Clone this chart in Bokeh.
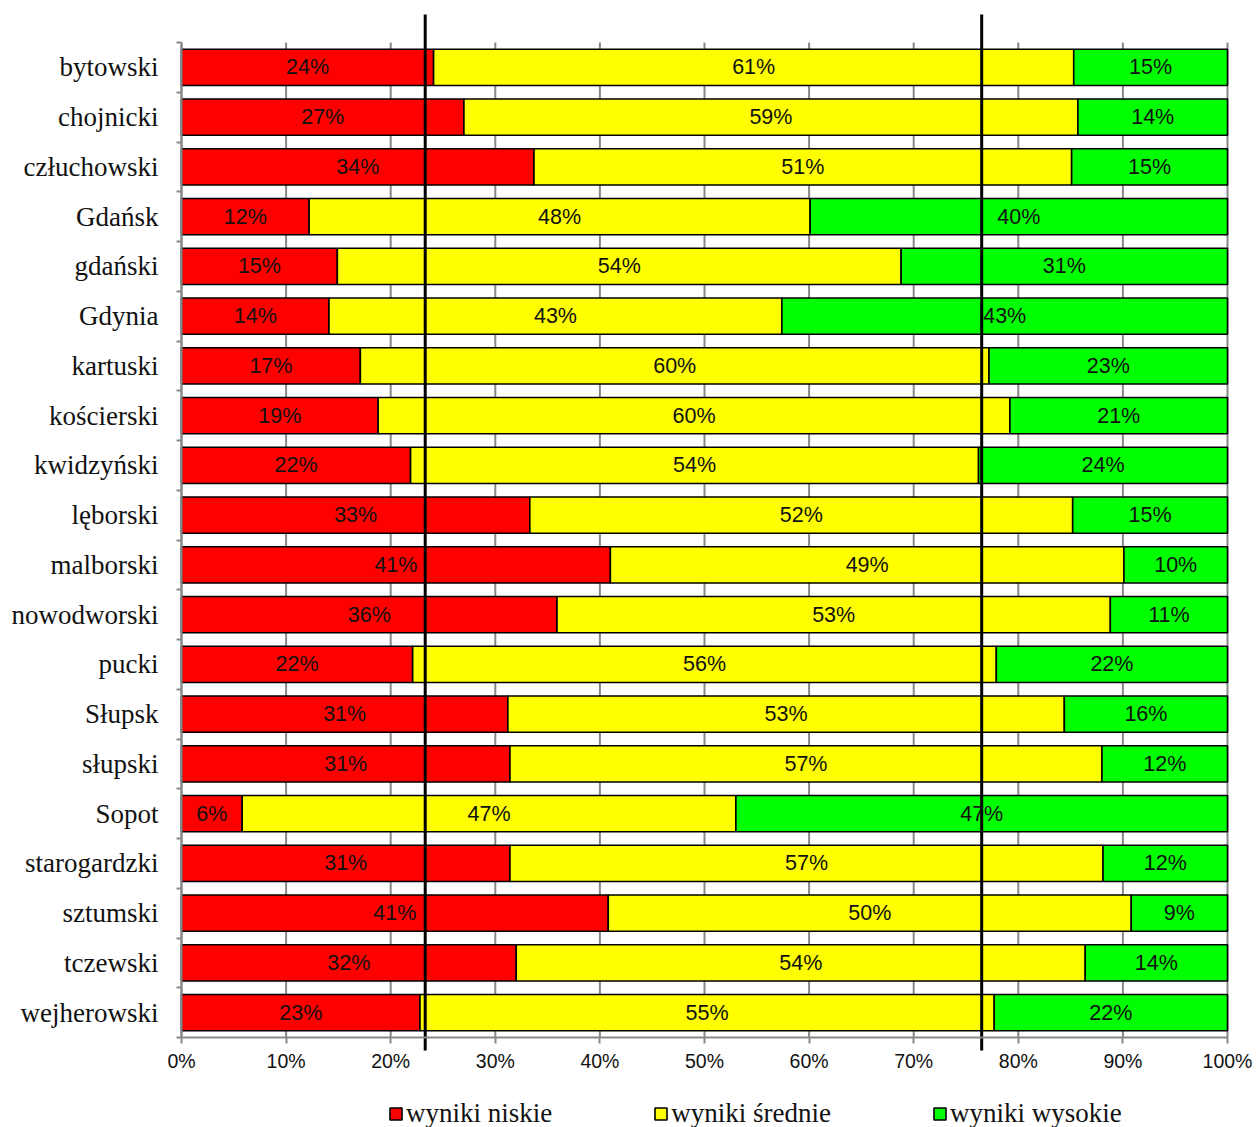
from bokeh.plotting import figure
from bokeh.models import Range1d, FixedTicker, ColumnDataSource, Legend, LegendItem, LinearAxis
from bokeh.core.properties import value
from bokeh.embed import file_html
from bokeh.resources import INLINE

powiaty = ["bytowski", "chojnicki", "człuchowski", "Gdańsk", "gdański", "Gdynia",
           "kartuski", "kościerski", "kwidzyński", "lęborski", "malborski",
           "nowodworski", "pucki", "Słupsk", "słupski", "Sopot", "starogardzki",
           "sztumski", "tczewski", "wejherowski"]
niskie = [24.1, 27.0, 33.7, 12.2, 14.9, 14.1, 17.1, 18.8, 21.9, 33.3, 41.0,
          35.9, 22.1, 31.2, 31.4, 5.8, 31.4, 40.8, 32.0, 22.8]
srednie = [61.2, 58.7, 51.4, 47.9, 53.9, 43.3, 60.1, 60.4, 54.3, 51.9, 49.1,
           52.9, 55.8, 53.2, 56.6, 47.2, 56.7, 50.0, 54.4, 54.9]
wysokie = [14.7, 14.3, 14.9, 39.9, 31.2, 42.6, 22.8, 20.8, 23.8, 14.8, 9.9,
           11.2, 22.1, 15.6, 12.0, 47.0, 11.9, 9.2, 13.6, 22.3]
srednia_linie = [23.3, 76.5]
x_ticks = [0, 10, 20, 30, 40, 50, 60, 70, 80, 90, 100]
x_tick_labels = ["0%", "10%", "20%", "30%", "40%", "50%", "60%", "70%", "80%", "90%", "100%"]
serie = ["wyniki niskie", "wyniki średnie", "wyniki wysokie"]
kolory = ["#FF0000", "#FFFF00", "#00FF00"]

n = len(powiaty)
ys = [n - 1 - i for i in range(n)]
bounds_rows = [k - 0.5 for k in range(n + 1)]

e1 = niskie
e2 = [a + b for a, b in zip(niskie, srednie)]
e3 = [a + b for a, b in zip(e2, wysokie)]
starts = [[0.0] * n, e1, e2]
ends = [e1, e2, e3]
vals = [niskie, srednie, wysokie]

W, H = 1258, 1127
ROW = 49.75          # px per category row
PX = 10.46           # px per percent
X_START = -181 / PX
X_END = 100 + (W - 1227) / PX
Y_TOP = n - 0.5 + 42 / ROW
Y_BOT = -0.5 - (H - 1037) / ROW
LINE_TOP = n - 0.5 + 28 / ROW
LINE_BOT = -0.5 - 13 / ROW

p = figure(width=W, height=H, output_backend="svg", toolbar_location=None,
           x_range=Range1d(X_START, X_END), y_range=Range1d(Y_BOT, Y_TOP),
           x_axis_location=None, y_axis_location=None,
           min_border=0, min_border_left=0, min_border_right=0,
           min_border_top=0, min_border_bottom=0)
p.outline_line_color = None
p.background_fill_color = "white"
p.border_fill_color = "white"
p.grid.visible = False

GRAY = "#888888"

# vertical gridlines
p.segment(x0=x_ticks, x1=x_ticks, y0=[-0.5] * len(x_ticks), y1=[n - 0.5] * len(x_ticks),
          line_color=GRAY, line_width=2)

renderers = []
for s, e, c in zip(starts, ends, kolory):
    r = p.hbar(y=ys, left=s, right=e, height=0.73, fill_color=c,
               line_color="black", line_width=1.6)
    renderers.append(r)

# reference lines
p.segment(x0=srednia_linie, x1=srednia_linie, y0=[LINE_BOT] * 2, y1=[LINE_TOP] * 2,
          line_color="black", line_width=3)

# labels
lx, ly, lt = [], [], []
for s, e, v in zip(starts, ends, vals):
    for i in range(n):
        lx.append((s[i] + e[i]) / 2)
        ly.append(ys[i])
        lt.append(f"{int(v[i] + 0.5)}%")
src = ColumnDataSource(dict(x=lx, y=ly, t=lt))
p.text(x="x", y="y", text="t", source=src, text_align="center", text_baseline="middle",
       text_font=value("Liberation Sans"), text_font_size="21.5px", text_color="#111111")

# axes
xaxis = LinearAxis(fixed_location=-0.5, bounds=(0, 100),
                   ticker=FixedTicker(ticks=x_ticks, minor_ticks=[]),
                   major_label_overrides={t: l for t, l in zip(x_ticks, x_tick_labels)})
xaxis.axis_line_color = GRAY
xaxis.axis_line_width = 2
xaxis.major_tick_line_color = GRAY
xaxis.major_tick_line_width = 2
xaxis.major_tick_out = 6
xaxis.major_tick_in = 0
xaxis.minor_tick_line_color = None
xaxis.major_label_standoff = 6
xaxis.major_label_text_font = "Liberation Sans"
xaxis.major_label_text_font_size = "19.5px"
xaxis.major_label_text_color = "#111111"
p.add_layout(xaxis, "below")

yaxis = LinearAxis(fixed_location=0, bounds=(-0.5, n - 0.5),
                   ticker=FixedTicker(ticks=ys, minor_ticks=bounds_rows),
                   major_label_overrides={y: name for y, name in zip(ys, powiaty)})
yaxis.axis_line_color = GRAY
yaxis.axis_line_width = 2
yaxis.major_tick_out = 0
yaxis.major_tick_in = 0
yaxis.minor_tick_line_color = GRAY
yaxis.minor_tick_line_width = 2
yaxis.minor_tick_out = 5
yaxis.minor_tick_in = 0
yaxis.major_label_standoff = 18
yaxis.major_label_text_font = "Liberation Serif"
yaxis.major_label_text_font_size = "27px"
yaxis.major_label_text_color = "#111111"
p.add_layout(yaxis, "left")

legend = Legend(items=[LegendItem(label=lab, renderers=[r]) for lab, r in zip(serie, renderers)],
                orientation="horizontal", location=(388, -2), spacing=101,
                glyph_width=15, glyph_height=15, label_standoff=3, padding=0, margin=0,
                border_line_color=None, background_fill_alpha=0,
                label_text_font="Liberation Serif", label_text_font_size="27px",
                label_text_color="#111111")
p.add_layout(legend)

open("out.html", "w").write(file_html(p, INLINE))
